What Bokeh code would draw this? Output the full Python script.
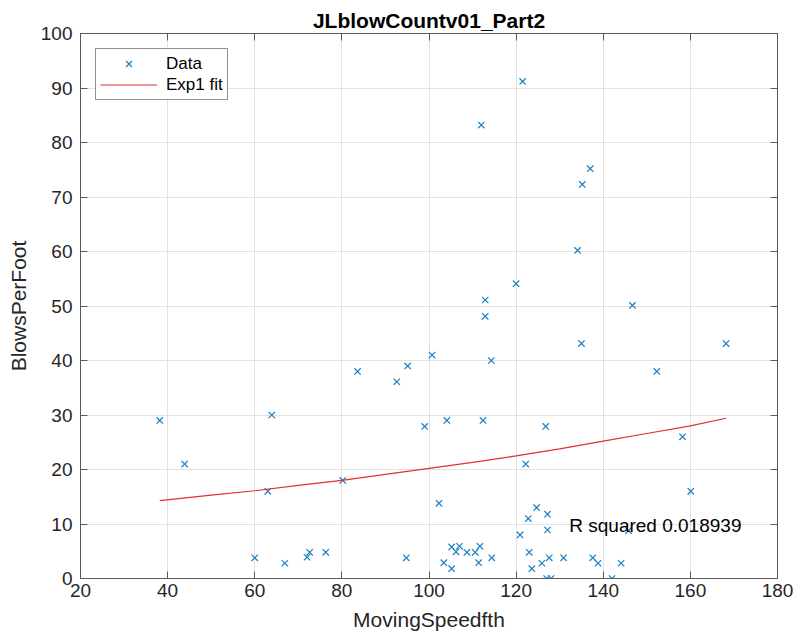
from bokeh.plotting import figure
from bokeh.models import (LinearAxis, Range1d, Label, Legend, LegendItem,
                          FixedTicker)
from bokeh.embed import file_html
from bokeh.resources import INLINE

# ---- data ----
speed = [38.2, 43.9, 60.0, 63.0, 63.9, 66.9, 72.0, 72.6, 76.3, 80.2,
         83.6, 92.6, 95.1, 94.8, 99.0, 100.7, 102.3, 103.4, 104.1, 105.2,
         105.2, 106.2, 107.0, 108.7, 110.6, 111.7, 111.4, 112.0, 112.4, 112.9,
         112.9, 114.3, 114.4, 120.0, 120.9, 121.5, 122.2, 122.8, 123.0, 123.6,
         124.7, 125.9, 126.8, 127.2, 127.2, 127.6, 127.0, 128.0, 130.9, 134.1,
         135.2, 135.0, 137.0, 137.6, 138.8, 142.0, 144.1, 145.8, 146.7, 152.3,
         158.2, 160.1, 168.2]
blows = [29.0, 21.0, 3.8, 16.0, 30.0, 2.8, 3.9, 4.8, 4.8, 18.0,
         38.0, 36.1, 39.0, 3.8, 27.9, 41.0, 13.8, 2.9, 29.0, 1.8,
         5.8, 4.9, 5.9, 4.8, 4.8, 5.9, 2.9, 83.2, 29.0, 51.1,
         48.1, 40.0, 3.8, 54.1, 8.0, 91.2, 21.0, 11.0, 4.8, 1.8,
         13.0, 2.8, 27.9, 11.8, 8.9, 3.8, 0.0, 0.0, 3.8, 60.2,
         72.3, 43.1, 75.2, 3.8, 2.8, 0.0, 2.8, 8.8, 50.1, 38.0,
         26.0, 16.0, 43.1]

fit_x = [38.2, 50, 60, 70, 80, 90, 100, 110, 120, 130, 140, 150, 160, 168.2]
fit_y = [14.3, 15.3, 16.1, 17.1, 18.0, 19.1, 20.2, 21.3, 22.5, 23.8, 25.2, 26.6, 28.0, 29.4]

x_ticks = [20, 40, 60, 80, 100, 120, 140, 160, 180]
y_ticks = [0, 10, 20, 30, 40, 50, 60, 70, 80, 90, 100]

title_text = "JLblowCountv01_Part2"
x_label = "MovingSpeedfth"
y_label = "BlowsPerFoot"
r2_text = "R squared 0.018939"

FONT = "Liberation Sans"
AX_COL = "#5a5a5a"
TXT_COL = "#262626"

p = figure(width=796, height=642, x_range=Range1d(20, 180), y_range=Range1d(0, 100),
           output_backend="svg", toolbar_location=None, title=title_text)
p.min_border_left = 80
p.min_border_right = 19
p.min_border_top = 33
p.min_border_bottom = 64
p.background_fill_color = "white"
p.border_fill_color = "white"
p.outline_line_color = AX_COL
p.outline_line_width = 1

p.title.text_font = FONT
p.title.text_font_size = "21px"
p.title.text_font_style = "bold"
p.title.text_color = "#000000"
p.title.align = "center"
p.title.standoff = 4


def style_axis(ax, ticks, show_labels=True):
    ax.ticker = FixedTicker(ticks=ticks)
    ax.axis_line_color = AX_COL
    ax.major_tick_line_color = AX_COL
    ax.major_tick_in = 7
    ax.major_tick_out = 0
    ax.minor_tick_line_color = None
    ax.major_label_text_font = FONT
    ax.major_label_text_color = TXT_COL
    if show_labels:
        ax.major_label_text_font_size = "19px"
    else:
        ax.major_label_text_font_size = "1px"
        ax.major_label_text_color = None
        ax.major_label_standoff = 0
    ax.axis_label_text_font = FONT
    ax.axis_label_text_font_size = "21px"
    ax.axis_label_text_font_style = "normal"
    ax.axis_label_text_color = TXT_COL


style_axis(p.xaxis[0], x_ticks)
style_axis(p.yaxis[0], y_ticks)
p.xaxis[0].axis_label = x_label
p.yaxis[0].axis_label = y_label
p.xaxis[0].major_label_standoff = 5
p.yaxis[0].major_label_standoff = 8
p.xaxis[0].axis_label_standoff = 8
p.yaxis[0].axis_label_standoff = 8

top_ax = LinearAxis()
style_axis(top_ax, x_ticks, show_labels=False)
p.add_layout(top_ax, "above")
right_ax = LinearAxis()
style_axis(right_ax, y_ticks, show_labels=False)
p.add_layout(right_ax, "right")

p.xgrid.ticker = FixedTicker(ticks=x_ticks)
p.ygrid.ticker = FixedTicker(ticks=y_ticks)
p.xgrid.grid_line_color = "#e2e2e2"
p.ygrid.grid_line_color = "#e2e2e2"
p.xgrid.grid_line_width = 1
p.ygrid.grid_line_width = 1

r_data = p.scatter(speed, blows, marker="x", size=9, line_color="#1a7fc2", line_width=1.2)
r_fit = p.line(fit_x, fit_y, line_color="#e03030", line_width=1.2)

lab = Label(x=132.2, y=9.7, text=r2_text, text_font=FONT, text_font_size="19px",
            text_baseline="middle", text_color="#000000")
p.add_layout(lab)

legend = Legend(items=[LegendItem(label="Data", renderers=[r_data]),
                       LegendItem(label="Exp1 fit", renderers=[r_fit])],
                location="top_left")
legend.margin = 15
legend.padding = 4
legend.spacing = 0
legend.glyph_width = 57
legend.glyph_height = 21
legend.label_height = 21
legend.label_standoff = 9
legend.label_text_font = FONT
legend.label_text_font_size = "17px"
legend.label_text_color = "#000000"
legend.border_line_color = "#262626"
legend.border_line_width = 1
legend.background_fill_color = "white"
legend.background_fill_alpha = 1.0
p.add_layout(legend)

open("out.html", "w").write(file_html(p, INLINE))
